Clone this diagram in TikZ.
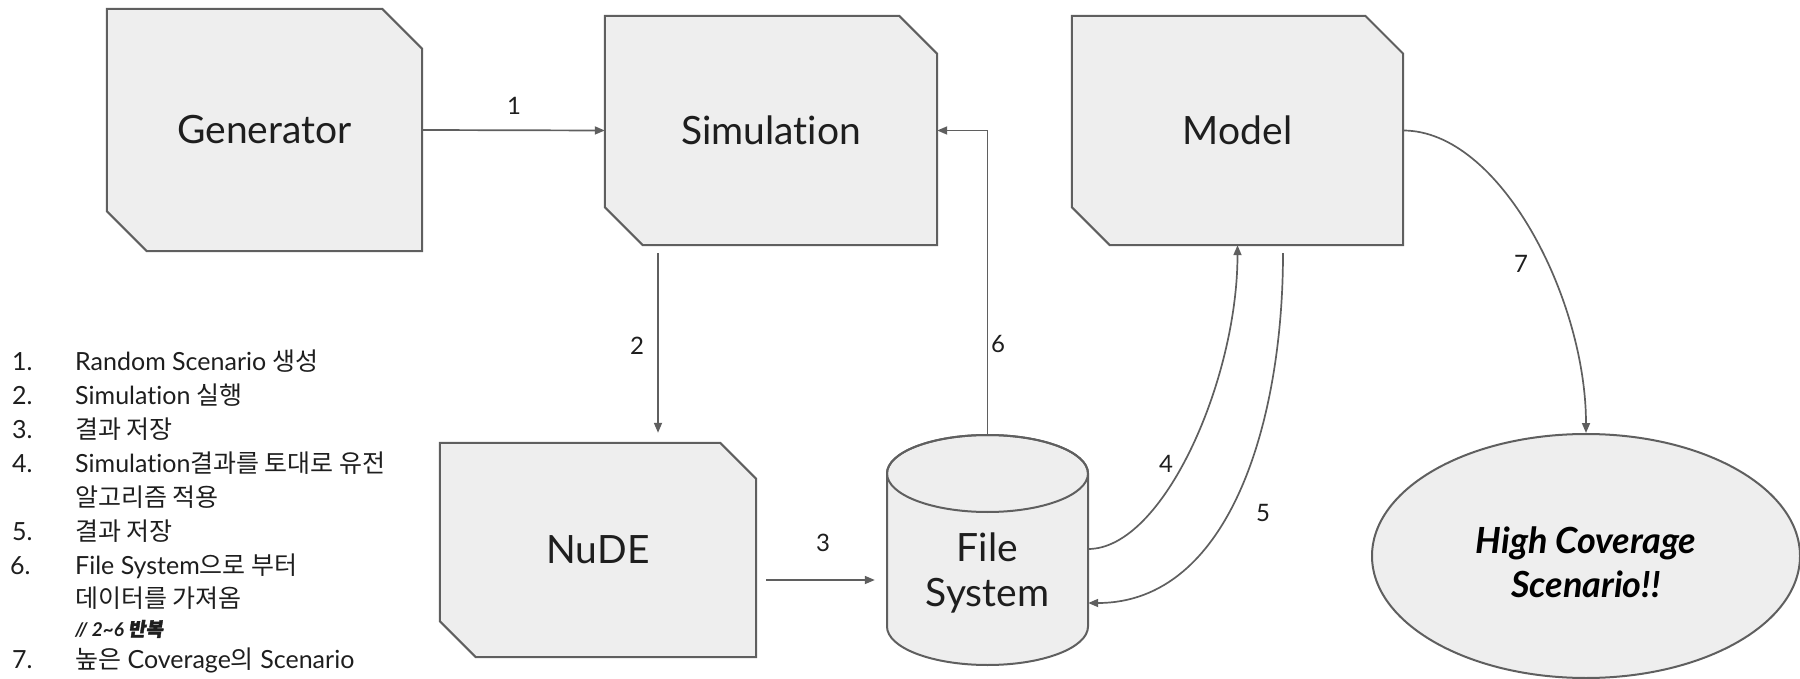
\documentclass[tikz,border=0pt]{standalone}
\usepackage{fontspec}
\setmainfont{Lato}[Ligatures={NoCommon}]
\newfontfamily\kr{Noto Sans CJK KR}
\newfontfamily\krb{Noto Sans CJK KR}[FakeBold=2,FakeSlant=0.15]
\usetikzlibrary{arrows.meta,shapes.geometric,backgrounds}
\definecolor{edge}{HTML}{5F5F5F}
\definecolor{boxfill}{HTML}{EEEEEE}
\definecolor{ink}{HTML}{1E1E1E}
\tikzset{
  boxnode/.style={rectangle, inner sep=0pt, font=\fontsize{39}{45}\selectfont, text=ink},
  boxline/.style={draw=edge, fill=boxfill, line width=2pt, line join=miter},
  conn/.style={draw=edge, line width=1.7pt, -{Triangle[length=10pt,width=8pt]}},
  num/.style={font=\fontsize{24}{28}\selectfont, text=ink, inner sep=0pt},
  leg/.style={anchor=base west, font=\fontsize{25}{29}\selectfont, text=ink, inner sep=0pt},
}
\newcommand\chamfbox[2]{%
  \begin{pgfonlayer}{background}
  \path[boxline] (#1.north west) -- ([xshift=-#2pt]#1.north east) -- ([yshift=-#2pt]#1.north east)
    -- (#1.south east) -- ([xshift=#2pt]#1.south west) -- ([yshift=#2pt]#1.south west) -- cycle;
  \end{pgfonlayer}}
\begin{document}
\begin{tikzpicture}[x=1pt,y=-1pt]
\useasboundingbox (0,0) rectangle (1800,679);

% chamfered boxes
\node[boxnode, minimum width=315pt, minimum height=242pt] (gen) at (264.5,130) {Generator};
\chamfbox{gen}{40}
\node[boxnode, minimum width=332pt, minimum height=229pt] (sim) at (771,130.5) {Simulation};
\chamfbox{sim}{38}
\node[boxnode, minimum width=331pt, minimum height=229pt] (model) at (1237.5,130.5) {Model};
\chamfbox{model}{38}
\node[boxnode, minimum width=316pt, minimum height=214pt] (nude) at (598,550) {NuDE};
\chamfbox{nude}{36}

% cylinder
\path[boxline] (887,473.5) -- (887,626.5)
  arc[start angle=180,end angle=360,x radius=100.5pt,y radius=38.5pt]
  -- (1088,473.5)
  arc[start angle=0,end angle=180,x radius=100.5pt,y radius=38.5pt] -- cycle;
\draw[draw=edge, line width=2pt] (987.5,473.5) ellipse[x radius=100.5pt, y radius=38.5pt];
\node[rectangle, inner sep=0pt, minimum width=201pt, minimum height=230pt] (fs) at (987.5,550) {};
\node[boxnode, align=center, font=\fontsize{39}{45}\selectfont] (fstext) at (987.5,573) {File\\System};

% ellipse
\node[ellipse, draw=edge, fill=boxfill, line width=2pt, minimum width=428pt, minimum height=244pt,
      inner sep=0pt] (hc) at (1586,556) {};
\node[align=center, font=\fontsize{36}{44}\selectfont\bfseries\itshape, text=black] (hctext) at (1586,562)
  {High Coverage\\Scenario!!};

% connectors
\draw[conn] (gen.east) -- (sim.west);
\coordinate (a2) at ([xshift=-113pt,yshift=-8pt]sim.south);
\draw[conn, shorten >=10pt] (a2) -- (a2 |- nude.north);
\draw[conn] ([xshift=10pt,yshift=-30pt]nude.east) -- ([xshift=-12pt,yshift=-30pt]fs.west);
\draw[conn] (fs.north) |- (sim.east);
\draw[conn] ([yshift=1pt]fs.east) .. controls ([xshift=75pt,yshift=1pt]fs.east) and ([yshift=-135pt]model.south) .. (model.south);
\coordinate (a5) at ([xshift=45.5pt,yshift=-8pt]model.south);
\draw[conn] (a5) .. controls ([yshift=-167pt]a5) and ([xshift=142pt,yshift=-53pt]fs.east) .. ([yshift=-53pt]fs.east);
\draw[conn] (model.east) .. controls ([xshift=97pt]model.east) and ([yshift=134pt]hc.north) .. (hc.north);

% connector labels
\node[num] (n1) at (514,106) {1};
\node[num] (n2) at (637,346) {2};
\node[num] (n3) at (823,543) {3};
\node[num] (n4) at (1166,464) {4};
\node[num] (n5) at (1263,513) {5};
\node[num] (n6) at (998,344) {6};
\node[num] (n7) at (1521,264) {7};

% legend
\node[leg] (k1) at (12,370) {1.};
\node[leg] (t1) at (75,370) {Random Scenario {\kr 생성}};
\node[leg] (k2) at (12,404) {2.};
\node[leg] (t2) at (75,404) {Simulation {\kr 실행}};
\node[leg] (k3) at (12,438) {3.};
\node[leg] (t3) at (75,438) {{\kr 결과 저장}};
\node[leg] (k4) at (12,472) {4.};
\node[leg] (t4) at (75,472) {Simulation{\kr 결과를 토대로 유전}};
\node[leg] (t4b) at (75,506) {{\kr 알고리즘 적용}};
\node[leg] (k5) at (12,540) {5.};
\node[leg] (t5) at (75,540) {{\kr 결과 저장}};
\node[leg] (k6) at (10,574) {6.};
\node[leg] (t6) at (75,574) {File System{\kr 으로 부터}};
\node[leg] (t6b) at (75,607) {{\kr 데이터를 가져옴}};
\node[leg, font=\fontsize{19}{22}\selectfont\bfseries\itshape] (t6c) at (75,636) {// 2\textasciitilde 6 {\krb 반복}};
\node[leg] (k7) at (12,668) {7.};
\node[leg] (t7) at (75,668) {{\kr 높은} Coverage{\kr 의} Scenario};
\end{tikzpicture}
\end{document}
